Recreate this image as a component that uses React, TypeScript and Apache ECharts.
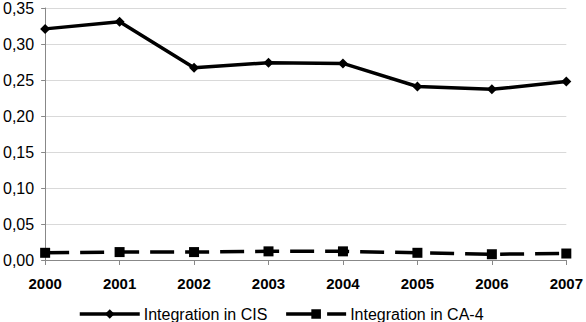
import React, { useEffect, useRef } from "react";
import * as echarts from "echarts";

const years = ["2000", "2001", "2002", "2003", "2004", "2005", "2006", "2007"];
const cis = [0.321, 0.331, 0.267, 0.274, 0.273, 0.241, 0.237, 0.248];
const ca4 = [0.010, 0.011, 0.011, 0.012, 0.012, 0.010, 0.008, 0.009];

const FONT = "Liberation Sans, Arial, sans-serif";

export default function App() {
  const ref = useRef<HTMLDivElement>(null);
  useEffect(() => {
    const chart = echarts.init(ref.current!, null, { renderer: "svg" });
    chart.setOption({
      animation: false,
      textStyle: { fontFamily: FONT },
      grid: { left: 45, right: 18, top: 6, bottom: 62, containLabel: false },
      legend: {
        top: 306,
        left: 78,
        padding: 0,
        itemWidth: 60,
        itemHeight: 12,
        itemGap: 17,
        lineStyle: { width: 3.5 },
        textStyle: { fontSize: 16, color: "#000", fontFamily: FONT, padding: [0, 0, 0, -1] },
        data: [
          { name: "Integration in CIS" },
          { name: "Integration in CA-4", lineStyle: { width: 3.5, type: [34, 7] } },
        ],
      },
      xAxis: {
        type: "category",
        data: years,
        boundaryGap: false,
        axisLine: { lineStyle: { color: "#888", width: 1 } },
        axisTick: { show: true, alignWithLabel: true, length: 5, lineStyle: { color: "#888" } },
        axisLabel: { fontSize: 15, fontWeight: "bold", color: "#000", margin: 16, fontFamily: FONT },
      },
      yAxis: {
        type: "value",
        min: 0,
        max: 0.35,
        interval: 0.05,
        axisLine: { show: true, lineStyle: { color: "#888", width: 1 } },
        axisTick: { show: true, length: 4, lineStyle: { color: "#888" } },
        splitLine: { lineStyle: { color: "#d9d9d9", width: 1 } },
        axisLabel: {
          fontSize: 16,
          color: "#000",
          margin: 11,
          fontFamily: FONT,
          formatter: (v: number) => v.toFixed(2).replace(".", ","),
        },
      },
      series: [
        {
          name: "Integration in CIS",
          type: "line",
          data: cis,
          symbol: "diamond",
          symbolSize: 10,
          itemStyle: { color: "#000" },
          lineStyle: { color: "#000", width: 3.5 },
        },
        {
          name: "Integration in CA-4",
          type: "line",
          data: ca4,
          symbol: "rect",
          symbolSize: 10,
          itemStyle: { color: "#000" },
          lineStyle: { color: "#000", width: 3.5, type: [24, 11] },
        },
      ],
    });
    return () => chart.dispose();
  }, []);
  return <div ref={ref} style={{ width: 586, height: 322, position: "absolute", left: 0, top: 0 }} />;
}
